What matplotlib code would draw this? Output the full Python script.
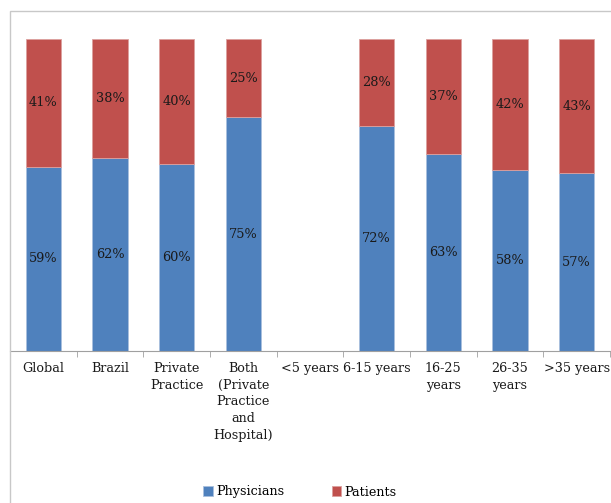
import numpy as np
import matplotlib.pyplot as plt
from matplotlib.patches import Rectangle

plt.rcParams['font.family'] = ['DejaVu Serif']

categories = ['Global', 'Brazil', 'Private\nPractice', 'Both\n(Private\nPractice\nand\nHospital)',
              '<5 years', '6-15 years', '16-25\nyears', '26-35\nyears', '>35 years']
physicians = [59, 62, 60, 75, np.nan, 72, 63, 58, 57]
patients = [41, 38, 40, 25, np.nan, 28, 37, 42, 43]

blue = '#4F81BD'
red = '#C0504D'

fig = plt.figure(figsize=(6.11, 5.03), dpi=100)
W, H = 611, 503
ax = fig.add_axes([10 / W, (H - 351) / H, 600 / W, 312 / H])

x = np.arange(len(categories))
phys = np.nan_to_num(physicians)
pat = np.nan_to_num(patients)
ax.bar(x, phys, width=0.53, color=blue, edgecolor='#a9c0de', linewidth=0.6, label='Physicians')
ax.bar(x, pat, width=0.53, bottom=phys, color=red, edgecolor='#dca09e', linewidth=0.6, label='Patients')

for i in range(len(categories)):
    if np.isnan(physicians[i]):
        continue
    ax.text(x[i], phys[i] / 2, f'{physicians[i]}%', ha='center', va='center', fontsize=9.3, color='#1a1a1a')
    ax.text(x[i], phys[i] + pat[i] / 2, f'{patients[i]}%', ha='center', va='center', fontsize=9.3, color='#1a1a1a')

ax.set_xlim(-0.5, len(categories) - 0.5)
ax.set_ylim(0, 100)
ax.set_yticks([])
for s in ['top', 'right', 'left']:
    ax.spines[s].set_visible(False)
ax.spines['bottom'].set_color('#a0a0a0')
ax.set_xticks(x)
ax.set_xticklabels(categories, fontsize=9.2, linespacing=1.36, va='top', color='#1a1a1a')
ax.set_xticks(np.arange(-0.5, len(categories)), minor=True)
ax.tick_params(axis='x', which='major', length=0, pad=8)
ax.tick_params(axis='x', which='minor', length=4, color='#a0a0a0')

# chart border
fig.patches.append(Rectangle((10 / W, -0.1), 1.0, (H - 11) / H + 0.1, transform=fig.transFigure,
                             fill=False, edgecolor='#c8c8c8', linewidth=1))

fig.legend(loc='center', bbox_to_anchor=(300 / W, (H - 492) / H), ncol=2, frameon=False,
           fontsize=9.2, handlelength=0.75, handleheight=0.75, handletextpad=0.25, columnspacing=3.7)

fig.savefig('out.png', dpi=100)
